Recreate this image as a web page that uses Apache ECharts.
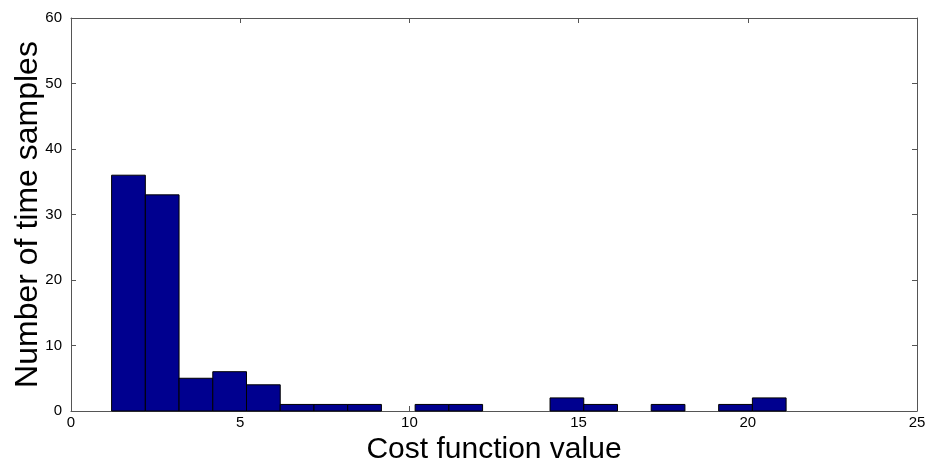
<!DOCTYPE html>
<html>
<head>
<meta charset="utf-8">
<script src="https://cdn.jsdelivr.net/npm/echarts@6/dist/echarts.min.js"></script>
<style>
  html, body { margin: 0; padding: 0; background: #fff; }
  #histChart { width: 932px; height: 466px; }
</style>
</head>
<body>
<div id="histChart"></div>
<script>
// histogram bins (20 bins, equal width)
const binStart = 1.2;
const binWidth = 0.9966;
const counts = [36, 33, 5, 6, 4, 1, 1, 1, 0, 1, 1, 0, 0, 2, 1, 0, 1, 0, 1, 2];
const xTicks = [0, 5, 10, 15, 20, 25];
const yTicks = [0, 10, 20, 30, 40, 50, 60];

const barData = counts.map((c, i) => [binStart + i * binWidth, binStart + (i + 1) * binWidth, c]);

const chart = echarts.init(document.getElementById('histChart'));
const axisFont = { fontFamily: 'Liberation Sans, Arial', fontSize: 15, color: '#000' };
const frameLine = { show: true, onZero: false, lineStyle: { color: '#555', width: 1 } };
const inTick = { show: true, inside: true, length: 5, lineStyle: { color: '#555' } };

const option = {
  animation: false,
  backgroundColor: '#fff',
  grid: { left: 71, right: 15, top: 18, bottom: 55, containLabel: false, outerBoundsMode: 'none' },
  xAxis: [
    {
      type: 'value', min: xTicks[0], max: xTicks[xTicks.length - 1], interval: 5,
      name: 'Cost function value', nameLocation: 'middle', nameGap: 21,
      nameTextStyle: { fontFamily: 'Liberation Sans, Arial', fontSize: 30, color: '#000' },
      axisLine: frameLine, axisTick: inTick, splitLine: { show: false },
      axisLabel: Object.assign({ margin: 4 }, axisFont)
    },
    {
      type: 'value', position: 'top', min: 0, max: 25, interval: 5,
      axisLine: frameLine, axisTick: inTick, splitLine: { show: false },
      axisLabel: { show: false }
    }
  ],
  yAxis: [
    {
      type: 'value', min: yTicks[0], max: yTicks[yTicks.length - 1], interval: 10,
      name: 'Number of time samples', nameLocation: 'middle', nameGap: 27,
      nameMoveOverlap: false,
      nameTextStyle: { fontFamily: 'Liberation Sans, Arial', fontSize: 32, color: '#000' },
      axisLine: frameLine, axisTick: inTick, splitLine: { show: false },
      axisLabel: Object.assign({ margin: 9 }, axisFont)
    },
    {
      type: 'value', position: 'right', min: 0, max: 60, interval: 10,
      axisLine: frameLine, axisTick: inTick, splitLine: { show: false },
      axisLabel: { show: false }
    }
  ],
  series: [
    {
      type: 'custom',
      xAxisIndex: 0,
      yAxisIndex: 0,
      data: barData,
      renderItem: function (params, api) {
        if (api.value(2) <= 0) return null;
        const p0 = api.coord([api.value(0), 0]);
        const p1 = api.coord([api.value(1), api.value(2)]);
        return {
          type: 'rect',
          shape: { x: p0[0], y: p1[1], width: p1[0] - p0[0], height: p0[1] - p1[1] },
          style: { fill: '#00008f', stroke: '#000', lineWidth: 1 }
        };
      },
      encode: { x: [0, 1], y: 2 }
    }
  ]
};
chart.setOption(option);
</script>
</body>
</html>
